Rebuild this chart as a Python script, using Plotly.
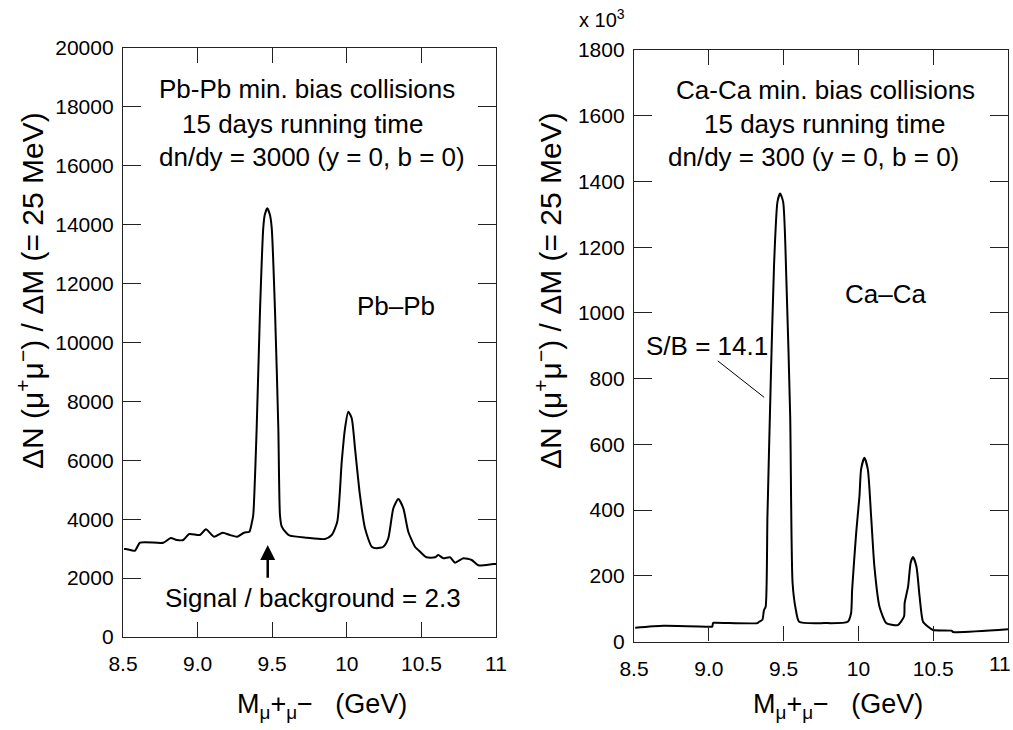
import plotly.graph_objects as go

# ---------------- data ----------------
pb_mass = [8.507, 8.520, 8.580, 8.614, 8.770, 8.820, 8.860, 8.904, 8.944, 9.016,
           9.056, 9.110, 9.168, 9.217, 9.266, 9.311, 9.347, 9.363, 9.373, 9.396,
           9.418, 9.440, 9.450, 9.467, 9.485, 9.497, 9.519, 9.541, 9.552, 9.564,
           9.597, 9.619, 9.731, 9.854, 9.899, 9.936, 9.966, 9.988, 10.010, 10.033,
           10.055, 10.088, 10.122, 10.167, 10.200, 10.245, 10.278, 10.312, 10.345, 10.379,
           10.412, 10.457, 10.491, 10.535, 10.591, 10.613, 10.647, 10.692, 10.725, 10.781,
           10.837, 10.881, 10.982, 11.0]
pb_counts = [2988, 2988, 2929, 3202, 3202, 3362, 3294, 3294, 3497, 3463,
             3657, 3406, 3542, 3463, 3406, 3542, 3576, 3871, 4143, 7097,
             11046, 13878, 14330, 14557, 14330, 13878, 11046, 7097, 4143, 3745,
             3521, 3440, 3372, 3328, 3463, 3915, 5952, 7087, 7650, 7426,
             6407, 4822, 3691, 3066, 3012, 3066, 3351, 4370, 4686, 4370,
             3576, 3066, 2896, 2706, 2706, 2784, 2672, 2706, 2523, 2672,
             2615, 2435, 2479, 2479]

ca_mass = [8.508, 8.698, 9.000, 9.023, 9.028, 9.034, 9.325, 9.336, 9.358, 9.369,
           9.380, 9.392, 9.414, 9.436, 9.459, 9.477, 9.497, 9.519, 9.544, 9.560,
           9.582, 9.604, 9.772, 9.929, 9.951, 9.958, 9.985, 10.007, 10.018, 10.040,
           10.063, 10.085, 10.107, 10.141, 10.186, 10.231, 10.264, 10.305, 10.309, 10.332,
           10.349, 10.365, 10.388, 10.409, 10.432, 10.466, 10.499, 10.622, 10.633, 11.0]
ca_counts = [42, 48, 45, 45, 56, 57, 56, 60, 66, 96,
             106, 381, 788, 1144, 1338, 1363, 1338, 1094, 686, 178,
             96, 60, 56, 60, 86, 157, 330, 442, 524, 559,
             524, 381, 228, 106, 56, 50, 50, 76, 117, 167,
             239, 257, 228, 137, 60, 45, 35, 33, 29, 37]

x_tickvals = [8.5, 9.0, 9.5, 10.0, 10.5, 11.0]
x_ticktext = ["8.5", "9.0", "9.5", "10", "10.5", "11"]
pb_yticks = list(range(0, 20001, 2000))
ca_yticks = list(range(0, 1801, 200))

# ---------------- figure ----------------
W, H = 1013, 730
FONT = "Liberation Sans, Arial, Helvetica, sans-serif"


def px(x):
    return x / W


def py(y):
    return 1 - y / H


fig = go.Figure()
fig.add_trace(go.Scatter(x=pb_mass, y=pb_counts, mode="lines",
                         line=dict(color="black", width=2, shape="spline", smoothing=0.6),
                         xaxis="x", yaxis="y", showlegend=False, hoverinfo="skip"))
fig.add_trace(go.Scatter(x=ca_mass, y=ca_counts, mode="lines",
                         line=dict(color="black", width=2, shape="spline", smoothing=0.6),
                         xaxis="x2", yaxis="y2", showlegend=False, hoverinfo="skip"))

common_x = dict(range=[8.5, 11], tickvals=x_tickvals,
                ticks="inside", ticklen=15, tickwidth=1, tickcolor="#222",
                mirror="ticks", showline=True, linecolor="#222", linewidth=1.3,
                showgrid=False, zeroline=False, automargin=False,
                tickfont=dict(family=FONT, size=21, color="black"),
                ticklabelstandoff=8, fixedrange=True)
common_y = dict(ticks="inside", ticklen=18, tickwidth=1, tickcolor="#222",
                mirror="ticks", showline=True, linecolor="#222", linewidth=1.3,
                showgrid=False, zeroline=False, automargin=False,
                tickfont=dict(family=FONT, size=21, color="black"),
                ticklabelstandoff=4, tickformat="d", fixedrange=True)

fig.update_layout(
    width=W, height=H,
    margin=dict(l=0, r=0, t=0, b=0),
    paper_bgcolor="white", plot_bgcolor="white",
    font=dict(family=FONT, color="black"),
    xaxis=dict(domain=[px(123), px(496)], anchor="y", ticktext=x_ticktext, **common_x),
    yaxis=dict(domain=[py(637), py(48)], anchor="x", range=[0, 20000],
               tickvals=pb_yticks, **common_y),
    xaxis2=dict(domain=[px(634), px(1008)], anchor="y2",
                ticktext=x_ticktext[:-1] + [""], **common_x),
    yaxis2=dict(domain=[py(641.5), py(50)], anchor="x2", range=[0, 1800],
                tickvals=ca_yticks, **common_y),
)

ann = []


def text(x, y, s, size, **kw):
    d = dict(x=px(x), y=py(y), xref="paper", yref="paper", text=s, showarrow=False,
             xanchor="center", yanchor="middle",
             font=dict(family=FONT, size=size, color="black"))
    d.update(kw)
    ann.append(d)


TS = 26
# left panel texts
text(307, 89, "Pb-Pb min. bias collisions", TS)
text(302, 124, "15 days running time", TS)
text(312, 157, "dn/dy = 3000 (y = 0, b = 0)", TS)
text(396, 306, "Pb\u2013Pb", TS)
text(313, 598, "Signal / background = 2.3", TS)
# right panel texts
text(825, 90, "Ca-Ca min. bias collisions", TS)
text(824, 124, "15 days running time", TS)
text(813, 157, "dn/dy = 300 (y = 0, b = 0)", TS)
text(885, 294, "Ca\u2013Ca", TS)
text(707, 346, "S/B = 14.1", TS)
text(602, 19, "x 10<sup>3</sup>", 20)

# last tick label of the right x axis, kept inside the page
ann.append(dict(x=x_tickvals[-1], y=0, xref="x2", yref="y2", text=x_ticktext[-1],
                showarrow=False, xanchor="center", yanchor="top", xshift=-8, yshift=-8,
                font=dict(family=FONT, size=21, color="black")))

# axis titles
ytitle = "\u0394N (\u03bc<sup>+</sup>\u03bc<sup>\u2212</sup>) / \u0394M (= 25 MeV)"
text(30, 291, ytitle, 30, textangle=-90)
text(548, 291, ytitle, 30, textangle=-90)
xtitle = "M<sub>\u03bc</sub>+<sub>\u03bc</sub>\u2212\u00a0\u00a0\u00a0(GeV)"
text(322, 706, xtitle, 27)
text(838, 706, xtitle, 27)

# arrow under the first peak (Pb-Pb)
ann.append(dict(x=9.47, y=3124, ax=9.47, ay=1959, xref="x", yref="y",
                axref="x", ayref="y", text="", showarrow=True,
                arrowhead=2, arrowsize=1.2, arrowwidth=2.5, arrowcolor="black"))

fig.update_layout(annotations=ann)

# S/B pointer line (Ca-Ca)
fig.add_shape(type="line", x0=9.06, y0=854, x1=9.37, y1=743, xref="x2", yref="y2",
              line=dict(color="black", width=1))

fig.write_html("out.html")
